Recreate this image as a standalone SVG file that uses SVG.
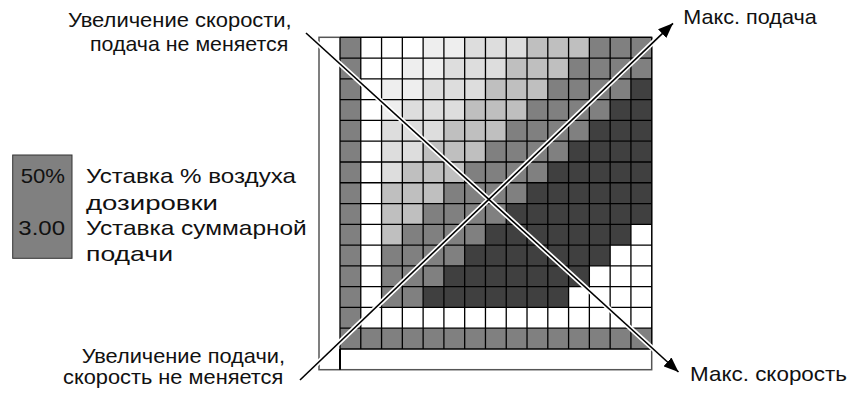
<svg xmlns="http://www.w3.org/2000/svg" width="853" height="393" viewBox="0 0 853 393">
  <style>
    text { font-family: "Liberation Sans", Arial, Helvetica, sans-serif; font-size: 21px; fill: #111; }
    .A { fill: #eeeeee; } .B { fill: #dddddd; } .C { fill: #bfbfbf; } .M { fill: #808080; } .D { fill: #404040; }
    .grid { fill: none; stroke: #000; stroke-width: 1.3; }
    .halo { stroke: #fff; stroke-width: 5; fill: none; }
    .arrow { stroke: #000; stroke-width: 1.6; fill: none; }
  </style>
  <defs>
    <marker id="ah" markerUnits="userSpaceOnUse" markerWidth="16" markerHeight="12" refX="15" refY="6" orient="auto">
      <path d="M0,0 L15,6 L0,12 Z" fill="#000"/>
    </marker>
  </defs>
  <rect width="853" height="393" fill="#fff"/>

  <g id="frame">
    <rect x="319" y="37.3" width="332.7" height="332.4" fill="#fff" stroke="#555" stroke-width="1.5"/>
    <line x1="340" y1="349" x2="340" y2="369.7" stroke="#000" stroke-width="2"/>
  </g>

  <g id="grid" transform="translate(340 37.3) scale(20.78)">
    <rect x="0" y="0" width="15" height="15" fill="#fff"/>
    <rect class="M" x="0" y="0" width="1" height="15"/>
    <rect class="M" x="0" y="14" width="15" height="1"/>
    <rect class="A" x="4" y="0" width="2" height="1"/><rect class="B" x="6" y="0" width="3" height="1"/><rect class="C" x="9" y="0" width="3" height="1"/><rect class="M" x="12" y="0" width="3" height="1"/>
    <rect class="A" x="3" y="1" width="2" height="1"/><rect class="B" x="5" y="1" width="3" height="1"/><rect class="C" x="8" y="1" width="3" height="1"/><rect class="M" x="11" y="1" width="4" height="1"/>
    <rect class="A" x="2" y="2" width="2" height="1"/><rect class="B" x="4" y="2" width="3" height="1"/><rect class="C" x="7" y="2" width="3" height="1"/><rect class="M" x="10" y="2" width="4" height="1"/><rect class="D" x="14" y="2" width="1" height="1"/>
    <rect class="A" x="2" y="3" width="1" height="1"/><rect class="B" x="3" y="3" width="3" height="1"/><rect class="C" x="6" y="3" width="3" height="1"/><rect class="M" x="9" y="3" width="4" height="1"/><rect class="D" x="13" y="3" width="2" height="1"/>
    <rect class="B" x="2" y="4" width="3" height="1"/><rect class="C" x="5" y="4" width="3" height="1"/><rect class="M" x="8" y="4" width="4" height="1"/><rect class="D" x="12" y="4" width="3" height="1"/>
    <rect class="B" x="2" y="5" width="2" height="1"/><rect class="C" x="4" y="5" width="3" height="1"/><rect class="M" x="7" y="5" width="4" height="1"/><rect class="D" x="11" y="5" width="4" height="1"/>
    <rect class="B" x="2" y="6" width="1" height="1"/><rect class="C" x="3" y="6" width="3" height="1"/><rect class="M" x="6" y="6" width="4" height="1"/><rect class="D" x="10" y="6" width="5" height="1"/>
    <rect class="C" x="2" y="7" width="3" height="1"/><rect class="M" x="5" y="7" width="4" height="1"/><rect class="D" x="9" y="7" width="6" height="1"/>
    <rect class="C" x="2" y="8" width="2" height="1"/><rect class="M" x="4" y="8" width="4" height="1"/><rect class="D" x="8" y="8" width="7" height="1"/>
    <rect class="C" x="2" y="9" width="1" height="1"/><rect class="M" x="3" y="9" width="4" height="1"/><rect class="D" x="7" y="9" width="7" height="1"/>
    <rect class="M" x="2" y="10" width="4" height="1"/><rect class="D" x="6" y="10" width="7" height="1"/>
    <rect class="M" x="2" y="11" width="3" height="1"/><rect class="D" x="5" y="11" width="7" height="1"/>
    <rect class="M" x="2" y="12" width="2" height="1"/><rect class="D" x="4" y="12" width="7" height="1"/>
    <path class="grid" vector-effect="non-scaling-stroke" d="M0 0V15M1 0V15M2 0V15M3 0V15M4 0V15M5 0V15M6 0V15M7 0V15M8 0V15M9 0V15M10 0V15M11 0V15M12 0V15M13 0V15M14 0V15M15 0V15M0 0H15M0 1H15M0 2H15M0 3H15M0 4H15M0 5H15M0 6H15M0 7H15M0 8H15M0 9H15M0 10H15M0 11H15M0 12H15M0 13H15M0 14H15M0 15H15"/>
  </g>

  <g id="connectors">
    <line class="halo" x1="306" y1="33" x2="672" y2="366"/>
    <line class="halo" x1="300" y1="380" x2="667" y2="29"/>
    <line class="arrow" x1="306" y1="33" x2="678.5" y2="372" marker-end="url(#ah)"/>
    <line class="arrow" x1="300" y1="380" x2="673" y2="23.3" marker-end="url(#ah)"/>
  </g>

  <g id="legend">
    <rect x="12.7" y="155" width="59.3" height="103.3" fill="#808080" stroke="#333" stroke-width="1"/>
    <text x="20.7" y="183" textLength="44.3" lengthAdjust="spacingAndGlyphs">50%</text>
    <text x="18.3" y="235" textLength="46.7" lengthAdjust="spacingAndGlyphs">3.00</text>
    <text x="86" y="183" textLength="210" lengthAdjust="spacingAndGlyphs">Уставка % воздуха</text>
    <text x="86" y="210" textLength="132" lengthAdjust="spacingAndGlyphs">дозировки</text>
    <text x="86" y="235" textLength="220.7" lengthAdjust="spacingAndGlyphs">Уставка суммарной</text>
    <text x="86" y="261" textLength="87" lengthAdjust="spacingAndGlyphs">подачи</text>
  </g>

  <g id="label-speed">
    <text x="68" y="27" textLength="223.7" lengthAdjust="spacingAndGlyphs">Увеличение скорости,</text>
    <text x="90" y="51" textLength="198.3" lengthAdjust="spacingAndGlyphs">подача не меняется</text>
  </g>
  <g id="label-feed">
    <text x="81.7" y="363" textLength="203.3" lengthAdjust="spacingAndGlyphs">Увеличение подачи,</text>
    <text x="63" y="384" textLength="220.3" lengthAdjust="spacingAndGlyphs">скорость не меняется</text>
  </g>
  <g id="label-maxfeed">
    <text x="683.3" y="24" textLength="133.4" lengthAdjust="spacingAndGlyphs">Макс. подача</text>
  </g>
  <g id="label-maxspeed">
    <text x="690" y="381" textLength="157" lengthAdjust="spacingAndGlyphs">Макс. скорость</text>
  </g>
</svg>
